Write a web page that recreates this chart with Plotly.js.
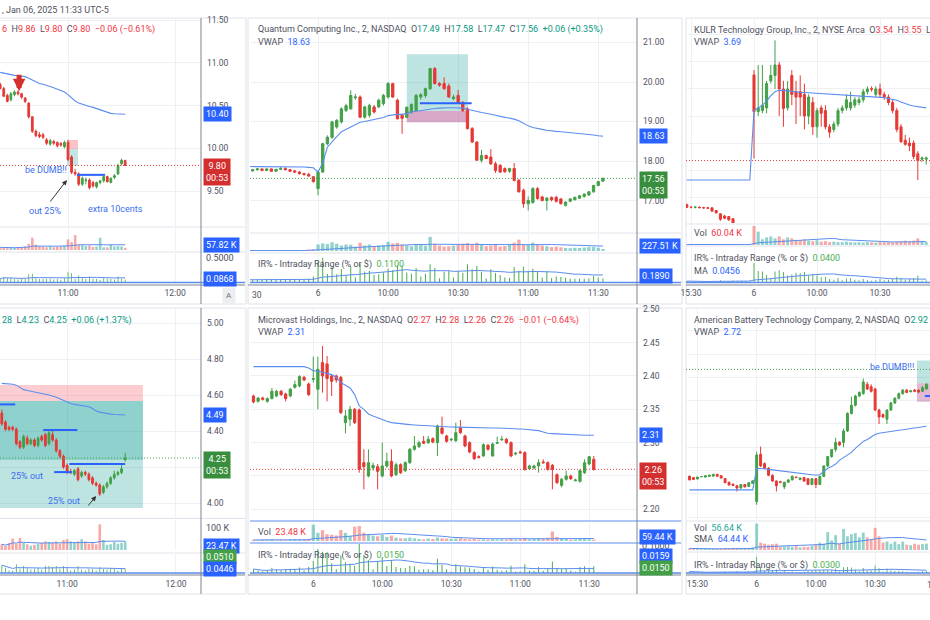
<!DOCTYPE html>
<html><head><meta charset="utf-8">
<script src="https://cdn.plot.ly/plotly-3.0.1.min.js"></script>
<style>html,body{margin:0;padding:0;background:#fff}#chart{width:930px;height:620px}</style>
</head><body><div id="chart"></div>
<script>
// ================= DATA =================
const timeTickVals = [0, 15, 30, 45, 60, 75, 90];
const timeTickText = ['15:30', '6', '10:00', '10:30', '11:00', '11:30', '12:00'];
const hourlyTickVals = [60, 90];
const hourlyTickText = ['11:00', '12:00'];

// ---- Panel 1 (top-left, ticker cut off) : candles [open, high, low, close], index 41 = 10:22
const p1Start = 41;
const p1Candles = [
 [10.75,10.77,10.69,10.70],[10.70,10.72,10.60,10.61],[10.62,10.64,10.54,10.55],[10.57,10.66,10.55,10.64],[10.63,10.68,10.61,10.66],
 [10.66,10.68,10.62,10.64],[10.64,10.65,10.58,10.60],[10.59,10.60,10.53,10.55],[10.53,10.54,10.35,10.37],[10.37,10.38,10.18,10.20],
 [10.20,10.22,10.13,10.15],[10.16,10.19,10.12,10.14],[10.16,10.18,10.11,10.13],[10.10,10.12,10.04,10.06],[10.05,10.11,10.03,10.09],
 [10.08,10.10,10.04,10.06],[10.07,10.08,10.01,10.03],[10.06,10.07,10.02,10.04],[10.02,10.09,10.00,10.07],[10.07,10.10,9.85,9.87],
 [9.90,9.92,9.70,9.72],[9.72,9.76,9.68,9.70],[9.70,9.72,9.56,9.58],[9.58,9.67,9.56,9.65],[9.62,9.66,9.58,9.63],
 [9.63,9.65,9.52,9.54],[9.60,9.62,9.54,9.56],[9.55,9.61,9.53,9.60],[9.60,9.63,9.58,9.62],[9.62,9.69,9.60,9.67],
 [9.67,9.68,9.60,9.61],[9.60,9.66,9.59,9.65],[9.66,9.70,9.64,9.68],[9.70,9.82,9.69,9.80],[9.82,9.88,9.80,9.86],
 [9.86,9.86,9.80,9.80]
];
const p1Vwap = [10.89,10.88,10.87,10.86,10.855,10.85,10.845,10.84,10.82,10.80,10.78,10.76,10.75,10.74,10.725,
 10.71,10.695,10.68,10.66,10.63,10.59,10.555,10.53,10.515,10.50,10.49,10.48,10.465,10.45,10.435,10.42,10.41,10.405,10.402,10.40,10.40];
const p1Volume = [30,25,20,30,25,35,30,40,70,140, 60,45,35,30,40,30,35,40,50,120, 90,170,60,55,45,50,35,40,140,30, 30,60,40,45,40,25];
const p1PriceTicks = [9.5, 10.0, 10.5, 11.0, 11.5];
const p1HiddenTicks = [];

// ---- Panel 2 : Quantum Computing Inc. (QUBT), index 0 = 15:30 prior day, 15 = 9:30
const p2Start = 0;
const p2Candles = [
 [17.79,17.81,17.74,17.75],[17.75,17.80,17.73,17.78],[17.78,17.82,17.75,17.80],[17.80,17.81,17.74,17.76],[17.76,17.82,17.74,17.80],
 [17.80,17.81,17.72,17.74],[17.74,17.80,17.73,17.79],[17.79,17.85,17.77,17.81],[17.81,17.84,17.76,17.78],[17.78,17.80,17.73,17.74],
 [17.75,17.78,17.70,17.72],[17.72,17.75,17.66,17.68],[17.68,17.70,17.63,17.66],[17.66,17.70,17.60,17.62],[17.60,17.62,17.45,17.48],
 [17.30,17.76,17.13,17.72],[17.72,18.46,17.70,18.44],[18.44,18.65,18.40,18.60],[18.60,19.02,18.56,18.99],[18.86,19.06,18.82,19.03],
 [18.99,19.36,18.95,19.32],[19.28,19.45,19.24,19.40],[19.32,19.79,19.30,19.66],[19.60,19.70,19.55,19.62],[19.62,19.66,19.08,19.11],
 [19.11,19.40,19.07,19.37],[19.16,19.45,19.10,19.41],[19.37,19.42,19.20,19.24],[19.37,19.58,19.34,19.54],[19.45,19.70,19.40,19.66],
 [19.62,20.00,19.58,19.96],[19.96,19.98,19.60,19.62],[19.54,19.58,19.05,19.07],[19.16,19.20,18.69,19.08],[19.11,19.38,19.08,19.36],
 [19.24,19.46,19.20,19.43],[19.28,19.70,19.26,19.66],[19.62,19.72,19.55,19.68],[19.66,19.86,19.60,19.83],[19.83,20.36,19.80,20.34],
 [20.34,20.38,19.94,19.96],[19.96,20.00,19.88,19.92],[19.96,20.12,19.80,19.83],[19.90,19.96,19.60,19.62],[19.58,19.68,19.54,19.62],
 [19.66,19.80,19.45,19.48],[19.48,19.52,19.24,19.28],[19.32,19.36,18.80,18.82],[18.82,18.86,18.46,18.48],[18.48,18.50,18.00,18.02],
 [18.02,18.28,17.96,18.14],[18.14,18.16,18.05,18.06],[18.10,18.30,17.90,17.93],[17.93,17.98,17.70,17.76],[17.89,17.92,17.70,17.72],
 [17.81,17.84,17.70,17.73],[17.74,17.83,17.70,17.81],[17.81,17.95,17.48,17.51],[17.51,17.55,17.20,17.22],[17.26,17.30,16.82,16.92],
 [16.92,17.10,16.75,17.00],[16.95,17.34,16.92,17.30],[17.30,17.34,17.02,17.05],[17.09,17.12,16.98,17.00],[17.00,17.09,16.75,17.06],
 [17.08,17.10,16.98,17.02],[17.08,17.12,16.95,16.98],[17.04,17.06,16.90,16.92],[16.88,16.98,16.85,16.96],[16.98,17.06,16.96,17.04],
 [17.02,17.10,17.00,17.08],[17.06,17.14,17.04,17.12],[17.10,17.18,17.08,17.16],[17.14,17.24,17.12,17.22],[17.22,17.40,17.20,17.38],
 [17.38,17.50,17.36,17.48],[17.49,17.58,17.47,17.56]
];
const p2Vwap = [17.86,17.86,17.86,17.86,17.86,17.86,17.86,17.86,17.86,17.86,
 17.86,17.85,17.85,17.84,17.83, 17.72,17.95,18.35,18.50,18.62, 18.74,18.80,18.88,18.93,18.98,
 19.00,19.03,19.05,19.07,19.10, 19.15,19.17,19.18,19.18,19.20, 19.24,19.26,19.28,19.30,19.32,
 19.33,19.34,19.35,19.35,19.35, 19.35,19.34,19.31,19.28,19.25, 19.23,19.21,19.19,19.16,19.13,
 19.11,19.09,19.06,19.02,18.95, 18.89,18.85,18.82,18.80,18.78, 18.76,18.75,18.74,18.73,18.72,
 18.71,18.70,18.69,18.68,18.66, 18.64,18.63];
const p2Volume = [20,15,18,12,25,20,15,30,20,25,30,20,40,60,80,
 300,350,320,400,330,250,300,280,200,380, 250,300,220,250,280,420,350,380,300,260,
 220,300,280,250,650,330,250,200,220,250, 280,330,360,300,380,280,220,250,280,200,
 230,300,380,520,300,280,380,300,250,220, 180,200,170,140,130,150,140,160,180,190, 150,90];
const p2PriceTicks = [17, 18, 19, 20, 21];
const p2HiddenTicks = [];

// ---- Panel 3 : KULR Technology Group (KULR), index -1 = 15:28 prior day
const p3Start = -1;
const p3Candles = [
 [3.372,3.375,3.360,3.362],[3.362,3.366,3.358,3.362],[3.362,3.365,3.358,3.363],[3.362,3.366,3.358,3.361],[3.361,3.364,3.357,3.360],
 [3.360,3.363,3.356,3.359],[3.360,3.362,3.345,3.348],[3.350,3.352,3.338,3.342],[3.338,3.340,3.312,3.318],[3.330,3.334,3.318,3.322],
 [3.328,3.330,3.312,3.316],[3.320,3.322,3.298,3.302],[3.300,3.302,3.280,3.285],[3.285,3.290,3.270,3.275],[3.275,3.280,3.262,3.268],
 [3.268,3.272,3.250,3.255],
 [3.852,3.870,3.543,3.716],[3.716,3.889,3.700,3.730],[3.720,3.889,3.710,3.740],[3.730,3.830,3.710,3.820],[3.830,3.889,3.820,3.850],
 [3.850,3.980,3.800,3.889],[3.889,3.900,3.700,3.800],[3.800,3.830,3.660,3.728],[3.730,3.830,3.720,3.800],[3.850,3.870,3.740,3.780],
 [3.790,3.830,3.670,3.770],[3.790,3.850,3.700,3.770],[3.780,3.820,3.650,3.700],[3.700,3.780,3.670,3.770],[3.750,3.770,3.630,3.660],
 [3.660,3.730,3.620,3.720],[3.730,3.740,3.660,3.710],[3.720,3.740,3.650,3.660],[3.660,3.670,3.620,3.640],[3.650,3.680,3.640,3.670],
 [3.670,3.730,3.660,3.720],[3.720,3.740,3.710,3.730],[3.730,3.780,3.720,3.760],[3.730,3.790,3.720,3.750],[3.740,3.770,3.730,3.760],
 [3.750,3.770,3.740,3.760],[3.760,3.800,3.750,3.790],[3.790,3.810,3.780,3.800],[3.801,3.810,3.790,3.799],[3.780,3.810,3.770,3.800],
 [3.800,3.820,3.770,3.780],[3.780,3.790,3.760,3.770],[3.770,3.780,3.740,3.750],[3.750,3.760,3.710,3.720],[3.720,3.730,3.640,3.650],
 [3.660,3.670,3.600,3.605],[3.610,3.630,3.590,3.595],[3.600,3.620,3.570,3.590],[3.600,3.610,3.540,3.550],[3.560,3.570,3.463,3.535],
 [3.540,3.550,3.530,3.545],[3.540,3.550,3.520,3.545]
];
const p3Vwap = [3.463,3.463,3.463,3.463,3.463,3.463,3.463,3.463,3.463,3.463,3.463,3.463,3.463,3.463,3.463,3.463,
 3.72,3.73,3.74,3.755,3.775, 3.79,3.795,3.795,3.793,3.79, 3.789,3.788,3.787,3.786,3.785,
 3.784,3.783,3.782,3.781,3.780, 3.779,3.778,3.778,3.777,3.776, 3.775,3.774,3.773,3.772,3.771,
 3.770,3.768,3.765,3.762,3.758, 3.752,3.746,3.741,3.737,3.734, 3.732,3.730];
const p3Volume = [5,4,3,4,3,5,6,8,6,5,7,8,6,5,7,9,
 200,140,60,80,90, 70,90,60,80,70, 55,50,60,45,40, 50,35,40,30,35,
 30,30,35,30,28, 30,25,30,28,25, 30,28,30,30,35, 40,45,40,45,70, 45,30];
const p3PriceTicks = [3.3, 3.4, 3.5, 3.6, 3.7, 3.8, 3.9, 4.0];
const p3HiddenTicks = [];
const p3Last = {open: 3.54, close: 3.535};   // current (off-screen) 11:32 bar

// ---- Panel 4 (bottom-left, ticker cut off), index 42 = 10:24
const p4Start = 42;
const p4Candles = [
 [4.50,4.52,4.43,4.44],[4.45,4.46,4.40,4.41],[4.42,4.43,4.40,4.41],[4.42,4.43,4.40,4.41],[4.41,4.42,4.32,4.33],
 [4.34,4.35,4.30,4.31],[4.31,4.38,4.30,4.37],[4.36,4.375,4.32,4.33],[4.33,4.36,4.32,4.35],[4.35,4.36,4.31,4.32],
 [4.32,4.37,4.31,4.36],[4.37,4.38,4.34,4.35],[4.38,4.39,4.31,4.32],[4.33,4.40,4.32,4.39],[4.38,4.41,4.34,4.35],
 [4.35,4.36,4.28,4.29],[4.29,4.30,4.25,4.26],[4.26,4.27,4.19,4.20],[4.21,4.22,4.16,4.17],[4.17,4.19,4.16,4.17],
 [4.16,4.19,4.15,4.18],[4.19,4.20,4.12,4.13],[4.15,4.18,4.14,4.17],[4.17,4.18,4.15,4.16],[4.16,4.17,4.12,4.13],
 [4.14,4.15,4.10,4.11],[4.11,4.12,4.09,4.10],[4.10,4.11,4.04,4.05],[4.06,4.10,4.05,4.09],[4.09,4.12,4.08,4.11],
 [4.11,4.15,4.10,4.14],[4.14,4.18,4.13,4.16],[4.16,4.18,4.15,4.17],[4.17,4.21,4.16,4.19],[4.24,4.28,4.23,4.25]
];
const p4Vwap = [4.665,4.664,4.662,4.660,4.655, 4.640,4.630,4.625,4.620,4.615, 4.610,4.607,4.604,4.600,4.595,
 4.588,4.580,4.570,4.560,4.553, 4.548,4.544,4.541,4.538,4.535, 4.525,4.512,4.505,4.500,4.497,
 4.494,4.492,4.490,4.489,4.489];
const p4Volume = [20,15,25,40,22,42,25,20,15,18, 22,25,30,28,25,30,22,35,38,30, 28,30,38,30,22,25,20,90,35,18, 20,28,22,25,30];
const p4PriceTicks = [4.0, 4.2, 4.4, 4.6, 4.8, 5.0];
const p4HiddenTicks = [4.2];   // covered by the last-price label in the reference

// ---- Panel 5 : Microvast Holdings (MVST), index 2 = 15:34 prior day
const p5Start = 2;
const p5Candles = [
 [2.370,2.372,2.359,2.361],[2.362,2.368,2.360,2.367],[2.367,2.369,2.363,2.365],[2.362,2.368,2.360,2.366],[2.366,2.382,2.365,2.377],
 [2.370,2.379,2.368,2.377],[2.377,2.379,2.370,2.372],[2.373,2.375,2.362,2.366],[2.370,2.382,2.368,2.380],[2.383,2.393,2.381,2.387],
 [2.385,2.401,2.383,2.399],[2.398,2.400,2.392,2.394],[2.388,2.390,2.370,2.372],[2.395,2.429,2.390,2.396],[2.380,2.429,2.350,2.410],
 [2.420,2.445,2.375,2.400],[2.418,2.430,2.362,2.396],[2.400,2.402,2.370,2.392],[2.400,2.402,2.390,2.394],[2.398,2.400,2.343,2.345],
 [2.330,2.349,2.314,2.340],[2.335,2.355,2.325,2.350],[2.350,2.352,2.328,2.330],[2.349,2.351,2.255,2.260],[2.270,2.290,2.230,2.264],
 [2.250,2.290,2.248,2.270],[2.262,2.270,2.258,2.266],[2.264,2.268,2.230,2.257],[2.250,2.300,2.248,2.265],[2.265,2.285,2.262,2.272],
 [2.272,2.290,2.248,2.250],[2.252,2.270,2.250,2.267],[2.267,2.269,2.253,2.255],[2.258,2.272,2.256,2.270],[2.270,2.292,2.268,2.290],
 [2.290,2.310,2.288,2.295],[2.294,2.303,2.292,2.300],[2.302,2.310,2.298,2.299],[2.300,2.310,2.298,2.305],[2.306,2.308,2.299,2.301],
 [2.300,2.327,2.280,2.325],[2.322,2.339,2.312,2.314],[2.310,2.312,2.300,2.302],[2.304,2.307,2.302,2.305],[2.303,2.330,2.301,2.315],
 [2.322,2.334,2.313,2.315],[2.310,2.312,2.293,2.295],[2.300,2.302,2.284,2.286],[2.285,2.287,2.274,2.276],[2.279,2.281,2.276,2.278],
 [2.280,2.299,2.279,2.297],[2.296,2.298,2.288,2.290],[2.280,2.300,2.279,2.298],[2.299,2.309,2.298,2.300],[2.304,2.310,2.303,2.305],
 [2.305,2.307,2.298,2.300],[2.300,2.302,2.278,2.280],[2.283,2.286,2.281,2.284],[2.286,2.288,2.283,2.285],[2.285,2.287,2.258,2.260],
 [2.261,2.267,2.259,2.265],[2.262,2.267,2.260,2.265],[2.265,2.275,2.255,2.270],[2.271,2.275,2.268,2.270],[2.270,2.272,2.258,2.260],
 [2.266,2.268,2.230,2.260],[2.252,2.254,2.238,2.240],[2.236,2.247,2.233,2.245],[2.245,2.258,2.243,2.250],[2.250,2.252,2.244,2.246],
 [2.243,2.246,2.242,2.244],[2.242,2.260,2.240,2.258],[2.255,2.275,2.253,2.270],[2.268,2.280,2.266,2.279],[2.275,2.280,2.258,2.260]
];
const p5Vwap = [2.414,2.414,2.414,2.414,2.414,2.414,2.414,2.414,2.414,2.414,2.414,2.414,
 2.412,2.408,2.407,2.405,2.404, 2.402,2.398,2.390,2.386,2.382,
 2.372,2.355,2.350,2.343,2.340, 2.337,2.334,2.332,2.330,2.329,
 2.328,2.3275,2.327,2.3265,2.326, 2.3255,2.325,2.3248,2.3245,2.324,
 2.3238,2.3235,2.3233,2.323,2.3228, 2.3226,2.3225,2.3224,2.3223,2.3222,
 2.322,2.3219,2.3218,2.3216,2.3215, 2.321,2.3205,2.320,2.3195,2.319,
 2.318,2.316,2.314,2.3135,2.313, 2.3125,2.312,2.3118,2.3115,2.3112,
 2.311,2.311,2.311];
const p5Volume = [8,6,10,8,12,6,8,6,10,12,10,8,15,
 120,60,80,50,45, 40,80,60,35,105, 110,60,50,40,35, 45,30,40,25,20,
 20,25,20,15,12, 18,15,25,20,18, 15,18,20,15,12, 15,10,12,10,12,
 10,12,10,15,10, 12,20,12,15,18, 15,25,70,30,20, 15,10,12,15,18, 12,10];
const p5PriceTicks = [2.20, 2.25, 2.30, 2.35, 2.40, 2.45, 2.50];
const p5HiddenTicks = [2.25];   // covered by the last-price label in the reference

// ---- Panel 6 : American Battery Technology Company (ABAT), index -2 = 15:26 prior day
const p6Start = -2;
const p6Candles = [
 [2.476,2.478,2.458,2.460],[2.470,2.472,2.460,2.462],[2.464,2.474,2.462,2.472],[2.474,2.476,2.472,2.474],[2.472,2.480,2.470,2.478],
 [2.475,2.482,2.473,2.480],[2.476,2.486,2.475,2.484],[2.484,2.486,2.474,2.476],[2.478,2.480,2.466,2.468],[2.466,2.468,2.446,2.448],
 [2.450,2.452,2.436,2.438],[2.442,2.444,2.434,2.436],[2.435,2.437,2.410,2.425],[2.425,2.442,2.423,2.440],[2.440,2.442,2.428,2.430],
 [2.432,2.450,2.430,2.448],[2.445,2.458,2.443,2.456],
 [2.367,2.580,2.353,2.567],[2.570,2.603,2.515,2.520],[2.530,2.535,2.505,2.510],[2.510,2.515,2.476,2.480],[2.480,2.484,2.452,2.455],
 [2.455,2.458,2.410,2.435],[2.452,2.456,2.446,2.450],[2.430,2.452,2.420,2.450],[2.450,2.463,2.448,2.460],[2.460,2.480,2.458,2.475],
 [2.472,2.475,2.468,2.470],[2.462,2.470,2.458,2.468],[2.470,2.473,2.452,2.455],[2.465,2.468,2.438,2.440],[2.440,2.468,2.438,2.465],
 [2.465,2.468,2.425,2.440],[2.440,2.478,2.438,2.475],[2.475,2.522,2.472,2.520],[2.520,2.562,2.515,2.560],[2.560,2.592,2.555,2.590],
 [2.590,2.640,2.580,2.620],[2.622,2.626,2.605,2.610],[2.620,2.680,2.600,2.670],[2.670,2.750,2.665,2.745],[2.745,2.817,2.740,2.780],
 [2.780,2.825,2.775,2.820],[2.820,2.840,2.815,2.835],[2.830,2.895,2.825,2.880],[2.870,2.880,2.845,2.850],[2.860,2.870,2.835,2.840],
 [2.850,2.855,2.755,2.760],[2.760,2.765,2.700,2.730],[2.740,2.745,2.725,2.730],[2.720,2.762,2.700,2.760],[2.760,2.795,2.755,2.790],
 [2.790,2.815,2.785,2.810],[2.810,2.835,2.805,2.830],[2.830,2.850,2.825,2.845],[2.845,2.850,2.832,2.835],[2.838,2.846,2.836,2.842],
 [2.845,2.850,2.836,2.840],[2.845,2.848,2.832,2.837],[2.840,2.862,2.838,2.855],[2.850,2.875,2.848,2.870]
];
const p6Vwap = [2.417,2.417,2.417,2.417,2.417,2.417,2.417,2.417,2.417,2.417,2.417,2.417,2.417,2.417,2.417,2.417,2.417,
 2.510,2.510,2.508,2.505,2.503, 2.500,2.498,2.496,2.494,2.492, 2.490,2.488,2.486,2.484,2.482,
 2.480,2.482,2.495,2.510,2.517, 2.528,2.545,2.555,2.566,2.578, 2.595,2.610,2.625,2.633,2.645,
 2.655,2.660,2.663,2.667,2.669, 2.671,2.673,2.675,2.677,2.679, 2.682,2.685,2.688,2.690];
const p6Volume = [15,12,10,8,12,10,14,10,12,18,14,20,16,15,18,12,25,
 250,70,60,50,55, 60,30,35,35,30, 40,25,30,30,40, 50,70,60,170,90,
 140,60,200,130,150, 160,120,165,120,100, 210,130,70,80,60, 80,55,80,50,45, 60,50,56,60];
const p6PriceTicks = [2.3, 2.4, 2.5, 2.6, 2.7, 2.8, 2.9, 3.0, 3.1];
const p6HiddenTicks = [];
const p6Last = {open: 2.92, close: 2.934};   // current (off-screen) 11:32 bar

// ================= STYLE / LAYOUT =================
const W = 930, H = 620;
const px = x => x / W;
const py = y => 1 - y / H;
const FONT = 'Roboto, "Noto Sans", sans-serif';
const GREEN = '#43a047', RED = '#e53935', BLUE = '#2962ff', LINEBLUE = '#5b8def';
const GRID = '#edf0f5', TXT = '#4f5260', AXIS = '#80838d', SEP = '#e0e3eb';
const UPTXT = '#089981', DNTXT = '#f23645', IRG = '#4caf50';
const VOL_UP = 'rgba(38,166,154,0.5)', VOL_DN = 'rgba(239,83,80,0.5)';

const panels = [
 {k:1, start:p1Start, candles:p1Candles, vwap:p1Vwap, volume:p1Volume, ticks:p1PriceTicks, hidden:p1HiddenTicks, tv:hourlyTickVals, tt:hourlyTickText, last:null,
  frame:[-2,18,246,304], plotX:[0,201], price:[19,226], vol:[228,250], ir:[253,282], seps:[227,252], sepColor:SEP, irLine:282.5, timeLine:285,
  axisX:201, xRange:[40.95,97.25], yRange:[9.091,11.515], volMax:250, irMax:0.7, labels:true},
 {k:2, start:p2Start, candles:p2Candles, vwap:p2Vwap, volume:p2Volume, ticks:p2PriceTicks, hidden:p2HiddenTicks, tv:timeTickVals, tt:timeTickText, last:null,
  frame:[248,18,682,304], plotX:[250,637], price:[19,232], vol:[234,251], ir:[254,282], seps:[233,253], sepColor:SEP, irLine:282.5, timeLine:285,
  axisX:637, xRange:[0.43,83.3], yRange:[16.203,21.595], volMax:780, irMax:0.88, labels:true},
 {k:3, start:p3Start, candles:p3Candles, vwap:p3Vwap, volume:p3Volume, ticks:p3PriceTicks, hidden:p3HiddenTicks, tv:timeTickVals, tt:timeTickText, last:p3Last,
  frame:[686,18,934,304], plotX:[686,930], price:[19,223], vol:[225,245], ir:[247,282], seps:[224,246], sepColor:SEP, irLine:282.5, timeLine:285,
  axisX:null, xRange:[-1.19,56.9], yRange:[3.304,4.059], volMax:210, irMax:0.6, labels:false},
 {k:4, start:p4Start, candles:p4Candles, vwap:p4Vwap, volume:p4Volume, ticks:p4PriceTicks, hidden:p4HiddenTicks, tv:hourlyTickVals, tt:hourlyTickText, last:null,
  frame:[-2,308,246,594], plotX:[0,201], price:[309,518], vol:[520,550], ir:[554,573], seps:[518.5,553], sepColor:SEP, irLine:573, timeLine:575,
  axisX:201, xRange:[41.5,96.9], yRange:[3.917,5.078], volMax:105, irMax:0.22, labels:true},
 {k:5, start:p5Start, candles:p5Candles, vwap:p5Vwap, volume:p5Volume, ticks:p5PriceTicks, hidden:p5HiddenTicks, tv:timeTickVals, tt:timeTickText, last:null,
  frame:[248,308,682,594], plotX:[250,637], price:[309,520], vol:[522,541], ir:[544,573], seps:[521,543], sepColor:LINEBLUE, irLine:573, timeLine:575,
  axisX:637, xRange:[1.24,85.4], yRange:[2.184,2.5004], volMax:140, irMax:0.095, labels:true},
 {k:6, start:p6Start, candles:p6Candles, vwap:p6Vwap, volume:p6Volume, ticks:p6PriceTicks, hidden:p6HiddenTicks, tv:timeTickVals, tt:timeTickText, last:p6Last,
  frame:[686,308,934,594], plotX:[686,930], price:[309,520], vol:[522,550], ir:[553,573], seps:[521,552], sepColor:SEP, irLine:573, timeLine:575,
  axisX:null, xRange:[-2.9,58.9], yRange:[2.288,3.193], volMax:265, irMax:0.28, labels:false}
];

function axKey(p, n) { return n === 1 ? p + 'axis' : p + 'axis' + n; }
function axRef(p, n) { return n === 1 ? p : p + n; }
function sma(a, n) { return a.map((_, i) => { const s = Math.max(0, i - n + 1); let t = 0; for (let j = s; j <= i; j++) t += a[j]; return t / (i - s + 1); }); }
function col(c, t) { return '<span style="color:' + c + '">' + t + '</span>'; }
const SP = '\u00a0\u00a0';

const traces = [], shapes = [], annotations = [];
const layout = {width:W, height:H, margin:{l:0,r:0,t:0,b:0}, paper_bgcolor:'#ffffff', plot_bgcolor:'rgba(0,0,0,0)',
  showlegend:false, hovermode:false, font:{family:FONT, size:9, color:TXT}};

panels.forEach(P => {
  const k = P.k, xr = axRef('x', k), ypr = axRef('y', k), yvr = axRef('y', 6 + k), yir = axRef('y', 12 + k);
  const xs = P.candles.map((_, j) => P.start + j);
  const O = P.candles.map(c => c[0]), Hi = P.candles.map(c => c[1]), Lo = P.candles.map(c => c[2]), C = P.candles.map(c => c[3]);
  traces.push({type:'scatter', mode:'lines', x:xs, y:P.vwap, xaxis:xr, yaxis:ypr, line:{color:LINEBLUE, width:1.1}, hoverinfo:'skip'});
  traces.push({type:'candlestick', x:xs, open:O, high:Hi, low:Lo, close:C, xaxis:xr, yaxis:ypr, whiskerwidth:0,
    increasing:{line:{color:GREEN, width:1}, fillcolor:GREEN}, decreasing:{line:{color:RED, width:1}, fillcolor:RED}, hoverinfo:'skip'});
  const volColors = P.candles.map(c => c[3] >= c[0] ? VOL_UP : VOL_DN);
  traces.push({type:'bar', x:xs, y:P.volume, xaxis:xr, yaxis:yvr, width:0.72, marker:{color:volColors, line:{width:0}}, hoverinfo:'skip'});
  traces.push({type:'scatter', mode:'lines', x:xs, y:sma(P.volume, 20), xaxis:xr, yaxis:yvr, line:{color:LINEBLUE, width:1}, hoverinfo:'skip'});
  const ir = P.candles.map(c => +(c[1] - c[2]).toFixed(4));
  traces.push({type:'bar', x:xs, y:ir, xaxis:xr, yaxis:yir, width:0.22, marker:{color:IRG, line:{width:0}}, hoverinfo:'skip'});
  traces.push({type:'scatter', mode:'lines', x:xs, y:sma(ir, 20), xaxis:xr, yaxis:yir, line:{color:LINEBLUE, width:1}, hoverinfo:'skip'});

  layout[axKey('x', k)] = {domain:[px(P.plotX[0]), px(P.plotX[1])], range:P.xRange, anchor:yir,
    tickvals:P.tv, ticktext:P.tt, showgrid:true, gridcolor:GRID, gridwidth:1, zeroline:false, showline:false, ticks:'',
    tickfont:{size:8.5, color:TXT}, ticklabelstandoff:4, rangeslider:{visible:false}, fixedrange:true};
  layout[axKey('y', k)] = {domain:[py(P.price[1]), py(P.price[0])], range:P.yRange, anchor:xr, side:'right',
    tickvals:P.ticks, ticktext:P.ticks.map(v => P.hidden.indexOf(v) >= 0 ? '' : v.toFixed(2)), showgrid:true, gridcolor:GRID, zeroline:false, showline:false,
    ticks:'', showticklabels:P.labels, tickfont:{size:8.5, color:TXT}, ticklabelstandoff:5, fixedrange:true};
  layout[axKey('y', 6 + k)] = {domain:[py(P.vol[1]), py(P.vol[0])], range:[0, P.volMax], anchor:xr, showgrid:false,
    showticklabels:false, zeroline:false, ticks:'', fixedrange:true};
  layout[axKey('y', 12 + k)] = {domain:[py(P.ir[1]), py(P.ir[0])], range:[0, P.irMax], anchor:xr, showgrid:false,
    showticklabels:false, zeroline:false, ticks:'', fixedrange:true};

  const f = P.frame;
  shapes.push({type:'rect', xref:'paper', yref:'paper', x0:px(f[0]), x1:px(f[2]), y0:py(f[3]), y1:py(f[1]), line:{color:'#dfe2ea', width:1}, layer:'below'});
  const rightEdge = f[2] - 1;
  P.seps.forEach(s => shapes.push({type:'line', xref:'paper', yref:'paper', x0:px(P.plotX[0]), x1:px(rightEdge), y0:py(s), y1:py(s),
    line:{color:P.sepColor, width:1}}));
  shapes.push({type:'line', xref:'paper', yref:'paper', x0:px(P.plotX[0]), x1:px(rightEdge), y0:py(P.irLine), y1:py(P.irLine), line:{color:LINEBLUE, width:1.5}});
  shapes.push({type:'line', xref:'paper', yref:'paper', x0:px(Math.max(f[0], 0)), x1:px(rightEdge), y0:py(P.timeLine), y1:py(P.timeLine), line:{color:AXIS, width:1}});
  if (P.axisX) shapes.push({type:'line', xref:'paper', yref:'paper', x0:px(P.axisX), x1:px(P.axisX), y0:py(f[3]), y1:py(f[1]), line:{color:AXIS, width:1}});

  const lc = P.candles[P.candles.length - 1];
  const last = P.last || {open: lc[0], close: lc[3]};
  const up = last.close >= last.open;
  shapes.push({type:'line', xref:xr + ' domain', x0:0, x1:1, yref:ypr, y0:last.close, y1:last.close, line:{color:up ? GREEN : RED, width:1, dash:'1px,2px'}});

  if (P.labels) {
    const lx = px(P.axisX + 2);
    const vw = P.vwap[P.vwap.length - 1];
    annotations.push({xref:'paper', yref:ypr, x:lx, y:vw, xanchor:'left', yanchor:'middle', text:vw.toFixed(2), showarrow:false,
      bgcolor:BLUE, borderpad:2, font:{color:'#fff', size:9}});
    annotations.push({xref:'paper', yref:ypr, x:lx, y:last.close, xanchor:'left', yanchor:'top', yshift:7, text:last.close.toFixed(2) + '<br>00:53',
      showarrow:false, bgcolor:up ? '#388e3c' : '#d32f2f', borderpad:2, font:{color:'#fff', size:9}});
  }
});

// paper-space labels on the scales
function scaleLabel(x, y, text, bg, color) {
  annotations.push({xref:'paper', yref:'paper', x:px(x), y:py(y), xanchor:'left', yanchor:'middle', text:text, showarrow:false,
    bgcolor:bg || 'rgba(0,0,0,0)', borderpad:2, font:{color:color || '#fff', size:9}});
}
scaleLabel(203, 245, '57.82\u00a0K', BLUE);
scaleLabel(203, 258, '0.5000', null, TXT);
scaleLabel(203, 279, '0.0868', BLUE);
scaleLabel(639, 246, '227.51\u00a0K', BLUE);
scaleLabel(639, 276, '0.1890', BLUE);
scaleLabel(203, 528, '100\u00a0K', null, TXT);
scaleLabel(203, 546, '23.47\u00a0K', BLUE);
scaleLabel(203, 557, '0.0510', '#43a047');
scaleLabel(203, 569, '0.0446', BLUE);
scaleLabel(639, 546, '0.1000', null, TXT);
scaleLabel(639, 537, '59.44\u00a0K', BLUE);
scaleLabel(639, 556, '0.0159', BLUE);
scaleLabel(639, 568, '0.0150', '#43a047');
annotations.push({xref:'paper', yref:'paper', x:px(222), y:py(295), text:'A', showarrow:false, bgcolor:'#eceef2', borderpad:3, font:{size:8, color:'#6a6d78'}});

// legends
function legend(x, y, text) {
  annotations.push({xref:'paper', yref:'paper', x:px(x), y:py(y), xanchor:'left', yanchor:'middle', text:text, showarrow:false, font:{size:9, color:TXT}});
}
legend(0, 10, ', Jan 06, 2025 11:33 UTC-5');
legend(0, 30, col(DNTXT, '6') + SP + 'H' + col(DNTXT, '9.86') + SP + 'L' + col(DNTXT, '9.80') + SP + 'C' + col(DNTXT, '9.80') + SP + col(DNTXT, '\u22120.06 (\u22120.61%)'));
legend(256, 30, 'Quantum Computing Inc., 2, NASDAQ' + SP + 'O' + col(UPTXT, '17.49') + SP + 'H' + col(UPTXT, '17.58') + SP + 'L' + col(UPTXT, '17.47') + SP + 'C' + col(UPTXT, '17.56') + SP + col(UPTXT, '+0.06 (+0.35%)'));
legend(256, 42, 'VWAP' + SP + col(BLUE, '18.63'));
legend(256, 264, 'IR% - Intraday Range (% or $)' + SP + col(IRG, '0.1100'));
legend(692, 30, 'KULR Technology Group, Inc., 2, NYSE Arca' + SP + 'O' + col(DNTXT, '3.54') + SP + 'H' + col(DNTXT, '3.55') + SP + 'L' + col(DNTXT, '3.5'));
legend(692, 42, 'VWAP' + SP + col(BLUE, '3.69'));
legend(692, 233, 'Vol' + SP + col(DNTXT, '60.04\u00a0K'));
legend(692, 258, 'IR% - Intraday Range (% or $)' + SP + col(IRG, '0.0400'));
legend(692, 271, 'MA' + SP + col(BLUE, '0.0456'));
legend(0, 320, col(UPTXT, '28') + SP + 'L' + col(UPTXT, '4.23') + SP + 'C' + col(UPTXT, '4.25') + SP + col(UPTXT, '+0.06 (+1.37%)'));
legend(256, 320, 'Microvast Holdings, Inc., 2, NASDAQ' + SP + 'O' + col(DNTXT, '2.27') + SP + 'H' + col(DNTXT, '2.28') + SP + 'L' + col(DNTXT, '2.26') + SP + 'C' + col(DNTXT, '2.26') + SP + col(DNTXT, '\u22120.01 (\u22120.64%)'));
legend(256, 332, 'VWAP' + SP + col(BLUE, '2.31'));
legend(256, 532, 'Vol' + SP + col(DNTXT, '23.48\u00a0K'));
legend(256, 555, 'IR% - Intraday Range (% or $)' + SP + col(IRG, '0.0150'));
legend(692, 320, 'American Battery Technology Company, 2, NASDAQ' + SP + 'O' + col(UPTXT, '2.92') + SP + 'H' + col(UPTXT, '2'));
legend(692, 332, 'VWAP' + SP + col(BLUE, '2.72'));
legend(692, 528, 'Vol' + SP + col('#26a69a', '56.64\u00a0K'));
legend(692, 539, 'SMA' + SP + col(BLUE, '64.44\u00a0K'));
legend(692, 565, 'IR% - Intraday Range (% or $)' + SP + col(IRG, '0.0300'));
// cut-off time labels at panel edges
annotations.push({xref:'paper', yref:'paper', x:px(250), y:py(295), xanchor:'left', yanchor:'middle', text:'30', showarrow:false, font:{size:8.5, color:TXT}});
annotations.push({xref:'paper', yref:'paper', x:px(925), y:py(585), xanchor:'left', yanchor:'middle', text:'11', showarrow:false, font:{size:8.5, color:TXT}});

// ================= DRAWINGS (user annotations on the charts) =================
function rect(k, x0, x1, y0, y1, fill) { shapes.push({type:'rect', xref:axRef('x', k), yref:axRef('y', k), x0:x0, x1:x1, y0:y0, y1:y1, fillcolor:fill, line:{width:0}, layer:'between'}); }
function hline(k, x0, x1, y) { shapes.push({type:'line', xref:axRef('x', k), yref:axRef('y', k), x0:x0, x1:x1, y0:y, y1:y, line:{color:BLUE, width:2}}); }
function note(k, x, y, text) { annotations.push({xref:axRef('x', k), yref:axRef('y', k), x:x, y:y, text:text, showarrow:false, font:{size:9, color:'#3b6ef0'}}); }
function arrow(k, x0, y0, x1, y1, color, w, head, size) {
  annotations.push({xref:axRef('x', k), yref:axRef('y', k), axref:axRef('x', k), ayref:axRef('y', k), x:x1, y:y1, ax:x0, ay:y0, text:'',
    showarrow:true, arrowhead:head, arrowsize:size, arrowwidth:w, arrowcolor:color});
}
// panel 1
rect(1, 59.7, 62.8, 9.993, 10.098, 'rgba(242,54,69,0.3)');
rect(1, 59.7, 62.8, 9.794, 9.993, 'rgba(38,166,154,0.28)');
hline(1, 62.5, 70.4, 9.69);
note(1, 53.8, 9.747, 'be DUMB!!');
note(1, 53.6, 9.267, 'out 25%');
note(1, 73.2, 9.29, 'extra 10cents');
arrow(1, 54.7, 9.36, 59.7, 9.63, '#333', 1, 2, 1);
arrow(1, 46.3, 10.88, 46.3, 10.67, '#d32f2f', 5, 2, 0.5);
// panel 2
rect(2, 34.0, 47.1, 19.266, 20.70, 'rgba(38,166,154,0.3)');
rect(2, 34.0, 47.1, 18.98, 19.266, 'rgba(179,79,143,0.5)');
hline(2, 36.8, 47.9, 19.46);
// panel 4
rect(4, 38, 80.9, 4.567, 4.656, 'rgba(242,54,69,0.25)');
rect(4, 38, 80.9, 3.972, 4.567, 'rgba(38,166,154,0.3)');
rect(4, 38, 80.9, 4.239, 4.567, 'rgba(38,166,154,0.3)');
hline(4, 40, 45.7, 4.548);
hline(4, 53.4, 62.8, 4.406);
hline(4, 56.4, 61.4, 4.172);
hline(4, 60.6, 76, 4.217);
note(4, 49, 4.15, '25% out');
note(4, 59.2, 4.011, '25% out');
arrow(4, 65.5, 3.978, 68, 4.039, '#333', 1, 2, 1);
// panel 6
rect(6, 55.6, 65, 2.874, 2.972, 'rgba(38,166,154,0.3)');
rect(6, 55.6, 65, 2.795, 2.874, 'rgba(179,79,143,0.4)');
hline(6, 57.6, 65, 2.82);
note(6, 49.2, 2.945, 'be DUMB!!!');

layout.shapes = shapes;
layout.annotations = annotations;
Plotly.newPlot('chart', traces, layout, {staticPlot:true, displayModeBar:false});
</script>
</body></html>
